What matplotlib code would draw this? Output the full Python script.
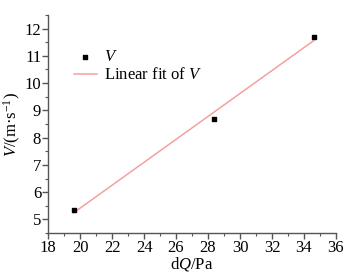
import numpy as np
import matplotlib.pyplot as plt
from matplotlib.ticker import MultipleLocator

plt.rcParams['font.family'] = ['Liberation Serif', 'DejaVu Serif']
plt.rcParams['mathtext.fontset'] = 'custom'
plt.rcParams['mathtext.rm'] = 'Liberation Serif'
plt.rcParams['mathtext.it'] = 'Liberation Serif:italic'

# data
dq = np.array([19.6, 28.4, 34.6])
v = np.array([5.35, 8.7, 11.7])

fit = np.polyfit(dq, v, 1)
x_fit = np.array([dq.min(), dq.max()])
y_fit = np.polyval(fit, x_fit)

fig = plt.figure(figsize=(3.54, 2.72), dpi=100)
ax = fig.add_axes([0.136, 0.143, 0.813, 0.802])

ax.scatter(dq, v, marker='s', s=12, color='black', zorder=3, label='$V$')
ax.plot(x_fit, y_fit, color='#f4a0a0', linewidth=1.1, zorder=2,
        label='Linear fit of $V$')

ax.set_xlim(18, 36)
ax.set_ylim(4.5, 12.5)
ax.xaxis.set_major_locator(MultipleLocator(2))
ax.xaxis.set_minor_locator(MultipleLocator(1))
ax.yaxis.set_major_locator(MultipleLocator(1))
ax.yaxis.set_minor_locator(MultipleLocator(0.5))

for s in ['top', 'right']:
    ax.spines[s].set_visible(False)
for s in ['left', 'bottom']:
    ax.spines[s].set_color('#555555')
    ax.spines[s].set_linewidth(1.0)

ax.tick_params(which='major', direction='out', length=4, width=1,
               color='#555555', labelsize=12, pad=1)
ax.tick_params(which='minor', direction='out', length=2, width=0.8,
               color='#555555')

ax.set_xlabel('d$Q$/Pa', fontsize=12, labelpad=-1)
ax.set_ylabel('$V$/(m·s$^{-1}$)', fontsize=12, labelpad=1)

ax.legend(loc='upper left', bbox_to_anchor=(0.065, 0.875), frameon=False,
          fontsize=12, handlelength=1.4, handletextpad=0.4,
          borderaxespad=0, labelspacing=0.15)

fig.savefig('out.png', dpi=100)
